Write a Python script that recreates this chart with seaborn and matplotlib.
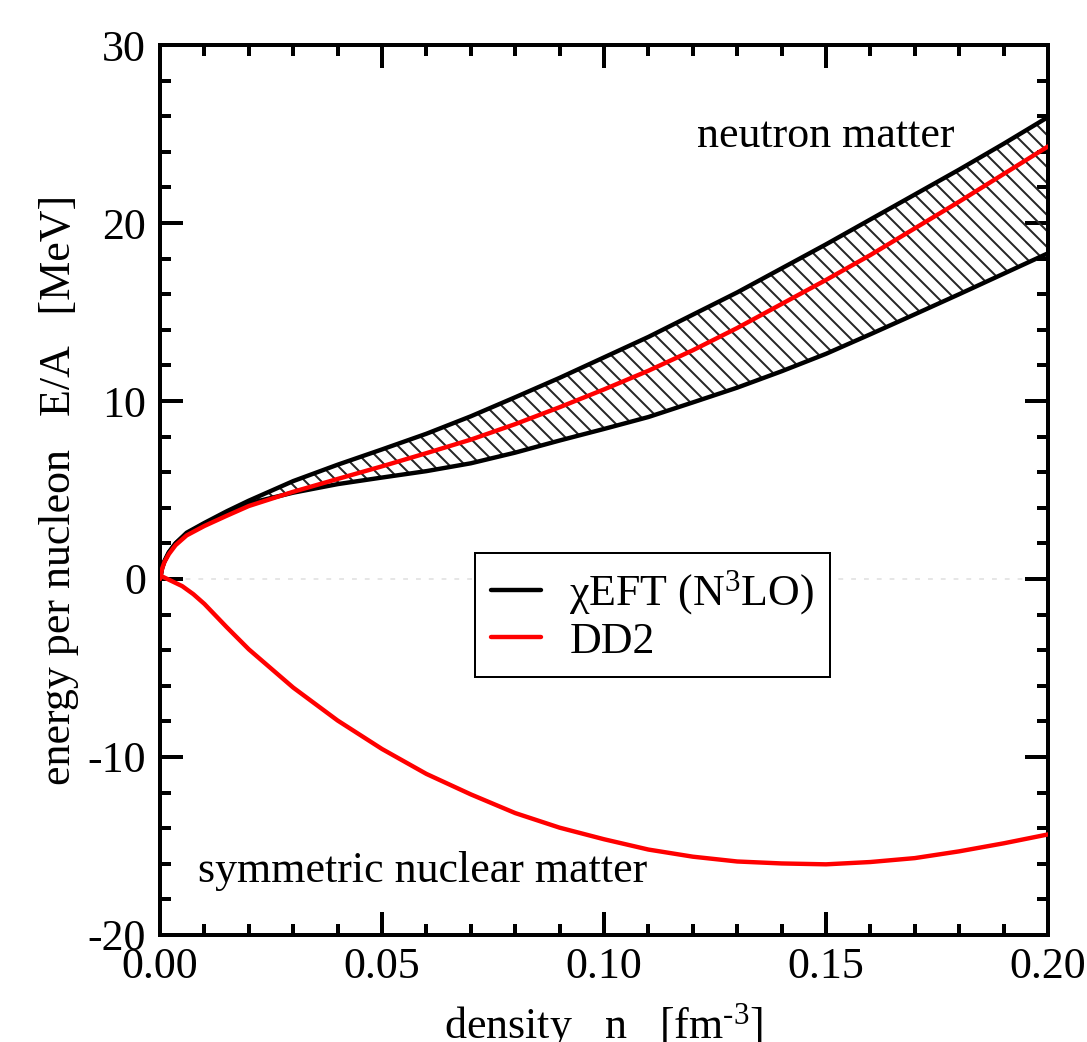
import numpy as np
import pandas as pd
import matplotlib
matplotlib.use("Agg")
import matplotlib.pyplot as plt
from matplotlib.lines import Line2D
import seaborn as sns

# ---------------- data ----------------
# neutron matter, chiral EFT (N3LO) band and DD2
n_nm = [0.0, 0.0005, 0.001, 0.002, 0.0035, 0.006, 0.01, 0.015, 0.02, 0.03, 0.04,
        0.05, 0.06, 0.07, 0.08, 0.09, 0.10, 0.11, 0.12, 0.13, 0.14, 0.15,
        0.16, 0.17, 0.18, 0.19, 0.20]
eft_upper = [0.0, 0.65, 1.0, 1.5, 2.0, 2.6, 3.15, 3.8, 4.4, 5.5, 6.42,
             7.28, 8.16, 9.14, 10.21, 11.3, 12.45, 13.6, 14.85, 16.1, 17.45, 18.8,
             20.2, 21.6, 23.0, 24.45, 25.95]
eft_lower = [0.0, 0.65, 1.0, 1.5, 2.0, 2.55, 3.1, 3.7, 4.25, 4.85, 5.33,
             5.7, 6.06, 6.5, 7.1, 7.78, 8.43, 9.1, 9.92, 10.75, 11.67, 12.65,
             13.75, 14.87, 16.0, 17.15, 18.3]
dd2_nm = [0.0, 0.6, 0.95, 1.4, 1.9, 2.45, 2.98, 3.55, 4.1, 4.9, 5.62,
          6.33, 7.07, 7.83, 8.7, 9.65, 10.65, 11.7, 12.85, 14.1, 15.45, 16.8,
          18.2, 19.7, 21.2, 22.75, 24.3]

# symmetric nuclear matter, DD2
n_snm = [0.0, 0.0025, 0.005, 0.0075, 0.01, 0.015, 0.02, 0.03, 0.04, 0.05, 0.06,
         0.07, 0.08, 0.09, 0.10, 0.11, 0.12, 0.13, 0.14, 0.15, 0.16, 0.17,
         0.18, 0.19, 0.20]
dd2_snm = [0.2, -0.1, -0.4, -0.85, -1.4, -2.7, -3.95, -6.1, -7.95, -9.55, -10.95,
           -12.1, -13.15, -13.97, -14.62, -15.2, -15.6, -15.87, -15.98, -16.03, -15.9, -15.68,
           -15.3, -14.85, -14.35]

legend_labels = ["\u03c7EFT (N$^3$LO)", "DD2"]
x_ticks = [0.00, 0.05, 0.10, 0.15, 0.20]
y_ticks = [-20, -10, 0, 10, 20, 30]

# ---------------- style ----------------
sns.set_theme(style="ticks")
plt.rcParams["font.family"] = ["Liberation Serif", "DejaVu Serif"]
plt.rcParams["mathtext.fontset"] = "custom"
plt.rcParams["mathtext.rm"] = "Liberation Serif"
plt.rcParams["mathtext.it"] = "Liberation Serif:italic"
plt.rcParams["mathtext.default"] = "regular"
plt.rcParams["axes.unicode_minus"] = False
plt.rcParams["hatch.linewidth"] = 1.0
plt.rcParams["text.color"] = "black"
plt.rcParams["axes.labelcolor"] = "black"
plt.rcParams["xtick.color"] = "black"
plt.rcParams["ytick.color"] = "black"

FS = 22
LW = 2.2
fig = plt.figure(figsize=(1087 / 144, 1042 / 144), dpi=144)
ax = fig.add_axes([160 / 1087, 1 - 935 / 1042, 888 / 1087, 890 / 1042])

df_nm = pd.DataFrame({"n": n_nm, "up": eft_upper, "lo": eft_lower, "dd2": dd2_nm})
df_snm = pd.DataFrame({"n": n_snm, "dd2": dd2_snm})

# faint zero line
ax.axhline(0, color="0.88", lw=0.8, ls=(0, (3, 5)), zorder=0)

# hatched band
ax.fill_between(df_nm["n"], df_nm["lo"], df_nm["up"], facecolor="none",
                edgecolor="0.15", hatch="\\\\\\", linewidth=0, zorder=1)

sns.lineplot(data=df_nm, x="n", y="up", ax=ax, color="black", lw=LW,
             estimator=None, sort=False, zorder=3)
sns.lineplot(data=df_nm, x="n", y="lo", ax=ax, color="black", lw=LW,
             estimator=None, sort=False, zorder=3)
sns.lineplot(data=df_nm, x="n", y="dd2", ax=ax, color="red", lw=LW,
             estimator=None, sort=False, zorder=4)
sns.lineplot(data=df_snm, x="n", y="dd2", ax=ax, color="red", lw=LW,
             estimator=None, sort=False, zorder=4)

ax.set_xlim(0, 0.2)
ax.set_ylim(-20, 30)
ax.set_xticks(x_ticks)
ax.set_xticklabels([f"{v:.2f}" for v in x_ticks])
ax.set_yticks(y_ticks)
ax.set_yticklabels([str(v) for v in y_ticks])
ax.set_xticks(np.arange(0, 0.2001, 0.01), minor=True)
ax.set_yticks(np.arange(-20, 30.01, 2), minor=True)

ax.tick_params(which="both", direction="in", top=True, right=True, width=2,
               color="black", labelsize=FS, labelcolor="black")
ax.tick_params(which="major", length=11.5)
ax.tick_params(which="minor", length=5.5)
ax.tick_params(axis="x", which="major", pad=6)
ax.tick_params(axis="y", which="major", pad=7)
for s in ax.spines.values():
    s.set_linewidth(2)
    s.set_color("black")
    s.set_visible(True)

ax.set_xlabel("density   n   [fm$^{\\text{-3}}$]", fontsize=FS, color="black")
ax.set_ylabel("energy per nucleon   E/A   [MeV]", fontsize=FS, color="black")
ax.xaxis.set_label_coords(0.5, -0.075)
ax.yaxis.set_label_coords(-0.0915, 0.5)

ax.text(0.1209, 24.29, "neutron matter", fontsize=FS, ha="left", va="baseline",
        color="black")
ax.text(0.0085, -17.0, "symmetric nuclear matter", fontsize=FS, ha="left",
        va="baseline", color="black")

handles = [Line2D([], [], color="black", lw=LW), Line2D([], [], color="red", lw=LW)]
leg = ax.legend(handles, legend_labels, loc="upper left", bbox_to_anchor=(0.355, 0.429),
                borderaxespad=0, fontsize=FS, frameon=True, fancybox=False,
                edgecolor="black", framealpha=1, handlelength=1.14, handletextpad=0.65,
                labelspacing=0.1, borderpad=0.35)
leg.get_frame().set_linewidth(1)
for t in leg.get_texts():
    t.set_color("black")

fig.savefig("out.png", dpi=144)
